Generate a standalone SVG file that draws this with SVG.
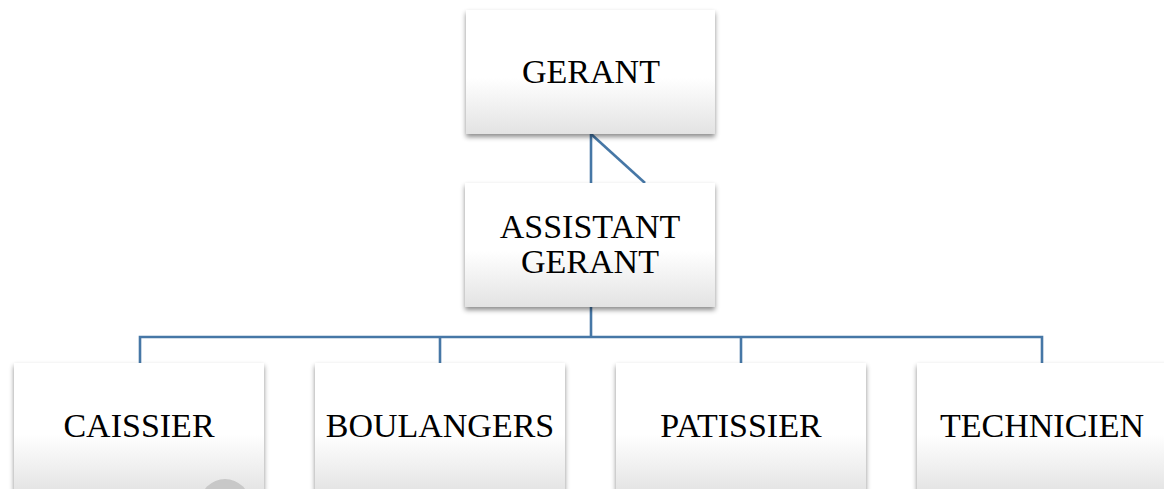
<svg xmlns="http://www.w3.org/2000/svg" width="1164" height="489" viewBox="0 0 1164 489">
<defs>
<linearGradient id="g" x1="0" y1="0" x2="0" y2="1">
<stop offset="0" stop-color="#ffffff"/>
<stop offset="0.55" stop-color="#ffffff"/>
<stop offset="1" stop-color="#e3e3e3"/>
</linearGradient>
<filter id="sh" x="-10%" y="-10%" width="120%" height="130%">
<feDropShadow dx="0" dy="3" stdDeviation="2.5" flood-color="#000" flood-opacity="0.45"/>
</filter>
</defs>
<style>
.box{fill:url(#g);filter:url(#sh);}
.lbl{font-family:"Liberation Serif","Times New Roman",serif;font-size:34px;fill:#000;text-anchor:middle;}
.c{stroke:#4677a6;stroke-width:2.6;fill:none;}
</style>
<rect width="1164" height="489" fill="#fff"/>
<g id="connectors">
<path class="c" d="M591 134 V337"/>
<path class="c" d="M591 134 L645 183"/>
<path class="c" d="M140 363 V337 H1042 V363"/>
<path class="c" d="M440 337 V363"/>
<path class="c" d="M741 337 V363"/>
</g>
<g id="gerant">
<rect class="box" x="466" y="10" width="249" height="124"/>
<text class="lbl" x="591" y="83">GERANT</text>
</g>
<g id="assistant">
<rect class="box" x="465" y="183" width="250" height="124"/>
<text class="lbl" x="590" y="238">ASSISTANT</text>
<text class="lbl" x="590" y="273">GERANT</text>
</g>
<g id="caissier">
<rect class="box" x="14" y="363" width="250" height="130"/>
<text class="lbl" x="139" y="437">CAISSIER</text>
</g>
<g id="boulangers">
<rect class="box" x="315" y="363" width="250" height="130"/>
<text class="lbl" x="440" y="437">BOULANGERS</text>
</g>
<g id="patissier">
<rect class="box" x="616" y="363" width="250" height="130"/>
<text class="lbl" x="741" y="437">PATISSIER</text>
</g>
<g id="technicien">
<rect class="box" x="917" y="363" width="250" height="130"/>
<text class="lbl" x="1042" y="437">TECHNICIEN</text>
</g>
<circle cx="225" cy="504" r="25" fill="#c8c8c8"/>
</svg>
